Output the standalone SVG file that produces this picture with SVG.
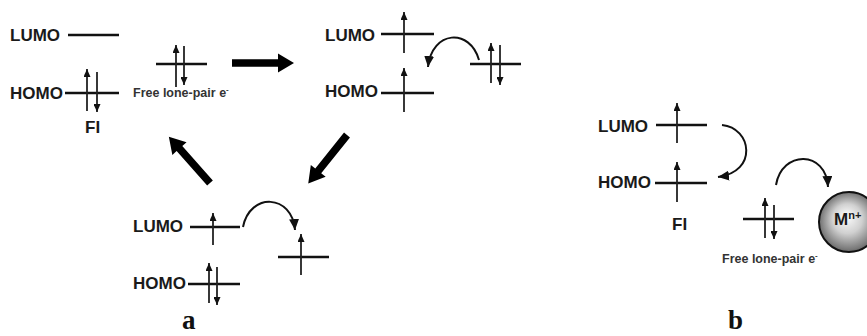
<svg xmlns="http://www.w3.org/2000/svg" width="867" height="336" viewBox="0 0 867 336">
<style>
.lbl{font-family:"Liberation Sans",Arial,sans-serif;font-weight:bold;font-size:17px;fill:#1a1a1a}
.small{font-family:"Liberation Sans",Arial,sans-serif;font-weight:bold;font-size:12.5px;fill:#333}
.panel{font-family:"Liberation Serif","Times New Roman",serif;font-weight:bold;font-size:27px;fill:#111}
.lvl{stroke:#111;stroke-width:2.5;fill:none}
.spin{stroke:#222;stroke-width:1.8;fill:none;marker-end:url(#sh)}
.curve{stroke:#111;stroke-width:2;fill:none;marker-end:url(#ch)}
.thick{fill:#000}
</style>
<defs>
<marker id="sh" markerUnits="userSpaceOnUse" markerWidth="8" markerHeight="7" refX="8" refY="3.5" orient="auto">
<path d="M0,0 L8,3.5 L0,7 Z" fill="#111"/>
</marker>
<marker id="ch" markerUnits="userSpaceOnUse" markerWidth="11" markerHeight="10" refX="11" refY="5" orient="auto">
<path d="M0,0 L11,5 L0,10 Z" fill="#111"/>
</marker>
<path id="big" d="M0,-3.8 L46,-3.8 L46,-9.5 L62,0 L46,9.5 L46,3.8 L0,3.8 Z"/>
<radialGradient id="sph" cx="0.5" cy="0.5" r="0.55" fx="0.45" fy="0.4">
<stop offset="0" stop-color="#ffffff"/>
<stop offset="0.45" stop-color="#d0d0d0"/>
<stop offset="0.85" stop-color="#7a7a7a"/>
<stop offset="1" stop-color="#505050"/>
</radialGradient>
</defs>

<g id="a-state1-FI">
<text class="lbl" x="10" y="41">LUMO</text>
<line class="lvl" x1="68" y1="35" x2="119" y2="35"/>
<text class="lbl" x="10" y="99">HOMO</text>
<line class="lvl" x1="65" y1="93" x2="119" y2="93"/>
<line class="spin" x1="87" y1="111" x2="87" y2="69"/>
<line class="spin" x1="97" y1="72" x2="97" y2="112"/>
<text class="lbl" x="85" y="133">FI</text>
</g>
<g id="a-state1-lonepair">
<line class="lvl" x1="156" y1="64" x2="207" y2="64"/>
<line class="spin" x1="176" y1="87" x2="176" y2="45"/>
<line class="spin" x1="184" y1="46" x2="184" y2="85"/>
<text class="small" x="133" y="97">Free lone-pair e<tspan font-size="8" dy="-5">-</tspan></text>
</g>

<g id="a-state2">
<text class="lbl" x="325" y="41">LUMO</text>
<line class="lvl" x1="381" y1="34" x2="434" y2="34"/>
<line class="spin" x1="404" y1="53" x2="404" y2="12"/>
<text class="lbl" x="325" y="97">HOMO</text>
<line class="lvl" x1="381" y1="93" x2="434" y2="93"/>
<line class="spin" x1="404" y1="112" x2="404" y2="68"/>
<line class="lvl" x1="470" y1="64" x2="521" y2="64"/>
<line class="spin" x1="491" y1="83" x2="491" y2="43"/>
<line class="spin" x1="500" y1="45" x2="500" y2="85"/>
</g>

<g id="a-state3">
<text class="lbl" x="133" y="232">LUMO</text>
<line class="lvl" x1="190" y1="227" x2="240" y2="227"/>
<line class="spin" x1="213" y1="245" x2="213" y2="213"/>
<text class="lbl" x="133" y="289">HOMO</text>
<line class="lvl" x1="188" y1="284" x2="240" y2="284"/>
<line class="spin" x1="209" y1="303" x2="209" y2="263"/>
<line class="spin" x1="217" y1="267" x2="217" y2="305"/>
<line class="lvl" x1="278" y1="257" x2="329" y2="257"/>
<line class="spin" x1="301" y1="275" x2="301" y2="234"/>
</g>

<g id="b-FI">
<text class="lbl" x="598" y="132">LUMO</text>
<line class="lvl" x1="656" y1="125" x2="707" y2="125"/>
<line class="spin" x1="677" y1="143" x2="677" y2="103"/>
<text class="lbl" x="598" y="188">HOMO</text>
<line class="lvl" x1="655" y1="183" x2="707" y2="183"/>
<line class="spin" x1="677" y1="202" x2="677" y2="162"/>
<text class="lbl" x="672" y="230">FI</text>
</g>
<g id="b-lonepair">
<line class="lvl" x1="743" y1="219" x2="794" y2="219"/>
<line class="spin" x1="765" y1="238" x2="765" y2="198"/>
<line class="spin" x1="774" y1="205" x2="774" y2="239"/>
<text class="small" x="722" y="263">Free lone-pair e<tspan font-size="8" dy="-5">-</tspan></text>
</g>
<g id="b-metal">
<circle cx="849" cy="222" r="30" fill="url(#sph)" stroke="#111" stroke-width="2"/>
<text class="lbl" x="834" y="225" font-size="16">M<tspan font-size="11" dy="-6">n+</tspan></text>
</g>

<g id="connectors">
<use href="#big" class="thick" transform="translate(232,63)"/>
<use href="#big" class="thick" transform="translate(347,135) rotate(128.7)"/>
<use href="#big" class="thick" transform="translate(210,183) rotate(228.4)"/>
<path class="curve" d="M479,60 C470,28 432,30 428,67"/>
<path class="curve" d="M243,227 C250,192 292,194 295,230"/>
<path class="curve" d="M722,125 C752,128 758,172 718,177"/>
<path class="curve" d="M776,185 C782,150 826,150 828,187"/>
</g>

<text class="panel" x="182" y="329">a</text>
<text class="panel" x="728" y="329">b</text>
</svg>
